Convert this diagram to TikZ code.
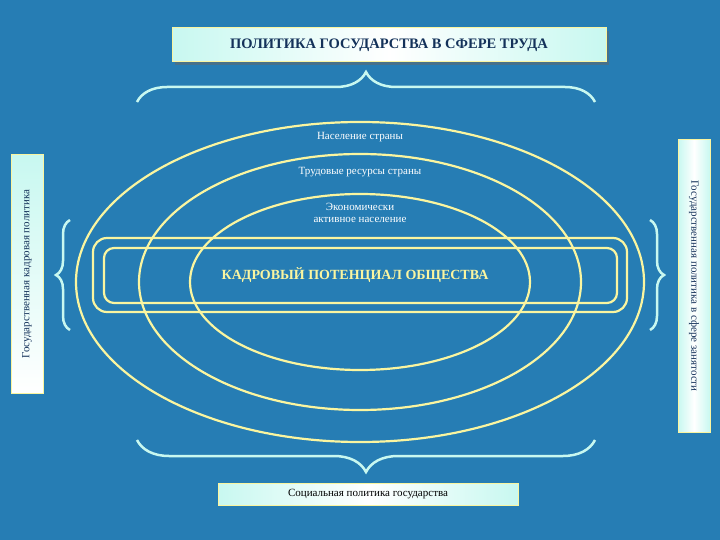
\documentclass[tikz,border=0pt]{standalone}
\usepackage{fontspec}
\setmainfont{Liberation Serif}
\usetikzlibrary{decorations.pathreplacing,shadows}
\definecolor{bg}{RGB}{38,125,180}
\definecolor{ylw}{RGB}{250,245,160}
\definecolor{cyn}{RGB}{200,248,240}
\definecolor{dkb}{RGB}{20,50,90}
\tikzset{
 lbox/.style={draw=ylw,line width=1pt,left color=cyn,right color=cyn,middle color=white,inner sep=2pt,text=dkb},
 oval/.style={draw=ylw,line width=2.2pt},
 brc/.style={draw=cyn,line width=2.5pt,decorate},
 lab/.style={text=white,font=\fontsize{11}{13}\selectfont,align=center}
}
\begin{document}
\begin{tikzpicture}[x=1pt,y=-1pt]
\fill[bg] (0,0) rectangle (720,540);
\node[lbox,minimum width=434,minimum height=34,font=\bfseries\fontsize{14.5}{16}\selectfont,drop shadow={fill=black!60,shadow xshift=3pt,shadow yshift=-3pt}] (title) at (389,45) {ПОЛИТИКА ГОСУДАРСТВА В СФЕРЕ ТРУДА};
\draw[brc,decoration={brace,amplitude=30pt}] (137,102) -- (595,102);
\draw[oval] (360,282) ellipse [x radius=284,y radius=160];
\draw[oval] (360,282) ellipse [x radius=221,y radius=128];
\draw[oval] (360,282) ellipse [x radius=170,y radius=88];
\draw[oval,rounded corners=14] (93,238) rectangle (627,312);
\draw[oval,rounded corners=10] (104,248) rectangle (617,303);
\node[lab] (n1) at (360,137) {Население страны};
\node[lab] (n2) at (360,172) {Трудовые ресурсы страны};
\node[lab,font=\fontsize{11}{12}\selectfont] (n3) at (360,213) {Экономически\\активное население};
\node[lab,text=ylw,font=\bfseries\fontsize{14}{16}\selectfont] (n4) at (355,275) {КАДРОВЫЙ ПОТЕНЦИАЛ ОБЩЕСТВА};
\node[lbox,rotate=90,minimum width=238,minimum height=32,font=\fontsize{11}{12}\selectfont,top color=cyn,bottom color=white] (lv) at (27,274) {Государственная кадровая политика};
\node[lbox,rotate=-90,minimum width=292,minimum height=32,font=\fontsize{11}{12}\selectfont] (rv) at (694,286) {Государственная политика в сфере занятости};
\draw[brc,decoration={brace,amplitude=14pt}] (70,330) -- (70,220);
\draw[brc,decoration={brace,amplitude=14pt}] (650,220) -- (650,330);
\draw[brc,decoration={brace,amplitude=32pt}] (595,440) -- (137,440);
\node[lbox,minimum width=300,minimum height=22,font=\fontsize{11}{12}\selectfont,text=black] (bot) at (368,494) {Социальная политика государства};
\end{tikzpicture}
\end{document}
